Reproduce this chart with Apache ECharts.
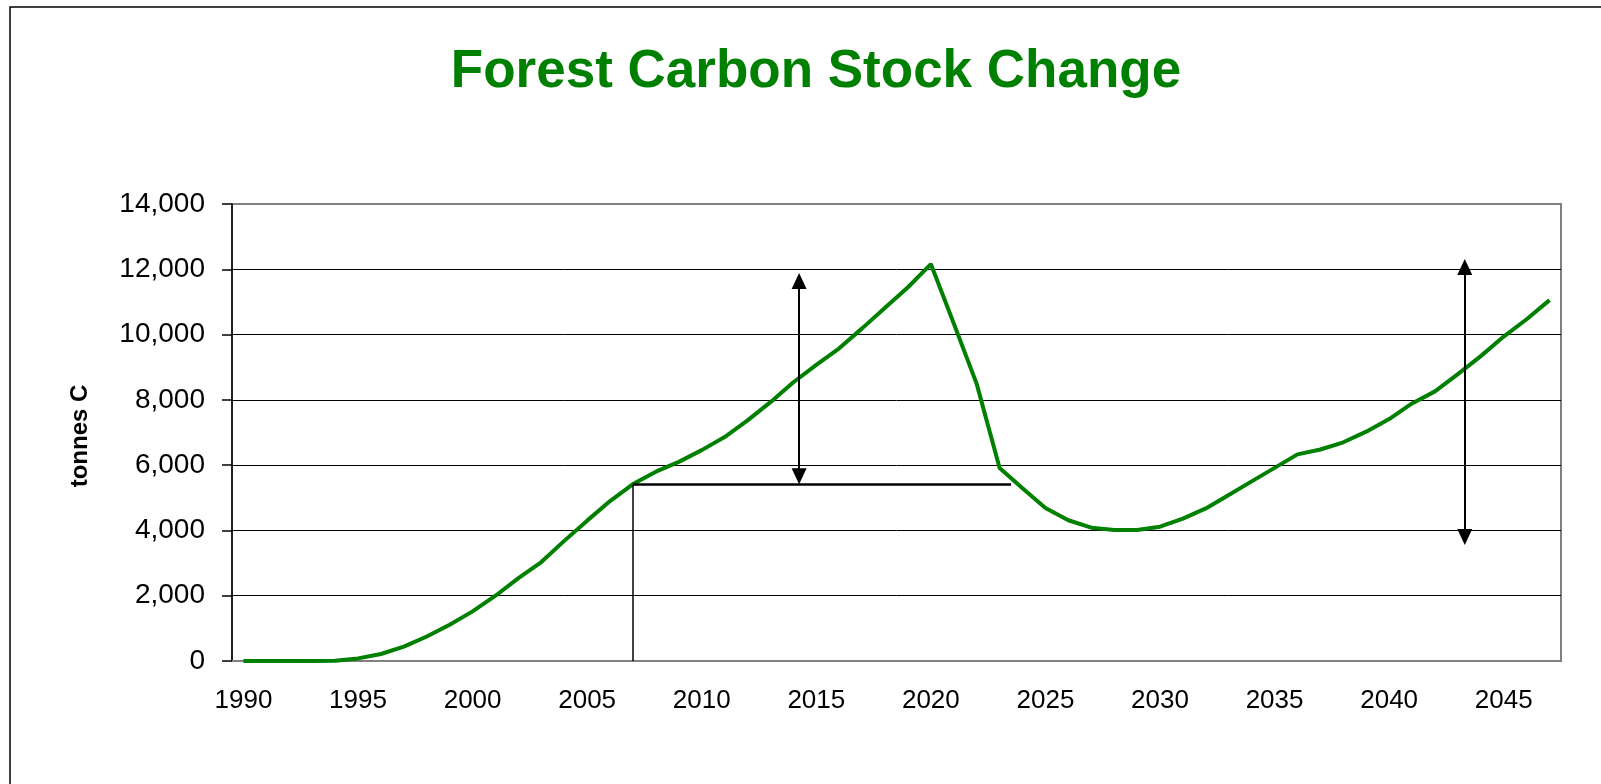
<!DOCTYPE html>
<html lang="en">
<head>
    <meta charset="UTF-8">
    <title>Forest Carbon Stock Change</title>
    <script type="text/javascript" src="https://cdn.jsdelivr.net/npm/echarts@6/dist/echarts.min.js"></script>
    <style>
        html, body {
            margin: 0;
            padding: 0;
            background-color: #ffffff;
            overflow: hidden;
        }
    </style>
</head>
<body>
    <div style="width: 1601px; height: 784px" id="container"></div>
</body>
<script>
    var dom = document.getElementById("container");
    var myChart = echarts.init(dom);
    let font = 'Liberation Sans, Arial, sans-serif';
    let green = '#008000';

    // years on the category axis
    let years = [
        '1990', '1991', '1992', '1993', '1994', '1995', '1996', '1997', '1998', '1999',
        '2000', '2001', '2002', '2003', '2004', '2005', '2006', '2007', '2008', '2009',
        '2010', '2011', '2012', '2013', '2014', '2015', '2016', '2017', '2018', '2019',
        '2020', '2021', '2022', '2023', '2024', '2025', '2026', '2027', '2028', '2029',
        '2030', '2031', '2032', '2033', '2034', '2035', '2036', '2037', '2038', '2039',
        '2040', '2041', '2042', '2043', '2044', '2045', '2046', '2047'
    ];
    // forest carbon stock, tonnes C
    let stock = [
        0, 0, 0, 0, 10, 80, 215, 440, 750, 1110,
        1520, 2000, 2540, 3030, 3680, 4300, 4900, 5420, 5800, 6100,
        6460, 6860, 7370, 7930, 8540, 9070, 9580, 10190, 10820, 11450,
        12160, 10340, 8490, 5910, 5295, 4684, 4311, 4083, 4010, 4010,
        4114, 4363, 4674, 5088, 5502, 5917, 6330, 6480, 6700, 7025,
        7410, 7890, 8260, 8790, 9340, 9940, 10470, 11055
    ];
    let yTicks = [0, 2000, 4000, 6000, 8000, 10000, 12000, 14000];

    // annotation: double arrows (year, top, bottom) and the reference level
    let arrowYear = [2014.25, 2043.3];
    let arrowTop = [11640, 12070];
    let arrowBottom = [5660, 3800];
    let refYear = 2007;
    let refEnd = 2023.5;
    let refLevel = 5400;

    let formatNumber = function (num) {
        let reg = /(?=(\B)(\d{3})+$)/g;
        return num.toString().replace(reg, ',');
    }

    let marks = [];
    arrowYear.forEach((x, i) => {
        marks.push([
            { coord: [x, arrowTop[i]], symbol: 'triangle', symbolSize: [15, 16] },
            { coord: [x, arrowBottom[i]], symbol: 'triangle', symbolSize: [15, 16] }
        ]);
    });
    marks.push([
        { coord: [refYear, 0], lineStyle: { width: 1.5 } },
        { coord: [refYear, refLevel] }
    ]);
    marks.push([
        { coord: [refYear, refLevel], lineStyle: { width: 2.5 } },
        { coord: [refEnd, refLevel] }
    ]);

    // grid lines: the top one and the zero line are grey like the plot frame
    let gridColors = yTicks.map((v, i) => (i === 0 || i === yTicks.length - 1) ? '#808080' : '#000');

    var option = {
        backgroundColor: '#ffffff',
        animation: false,
        title: {
            text: 'Forest Carbon Stock Change',
            left: 811,
            textAlign: 'center',
            top: 41,
            textStyle: {
                fontFamily: font,
                fontSize: 53,
                fontWeight: 'bold',
                color: green
            }
        },
        graphic: [{
            type: 'polyline',
            shape: { points: [[10, 784], [10, 7], [1601, 7]] },
            style: { stroke: '#000', lineWidth: 1.5, fill: null }
        }, {
            type: 'text',
            x: 80,
            y: 436,
            rotation: Math.PI / 2,
            style: {
                text: 'tonnes C',
                fontFamily: font,
                fontSize: 24,
                fontWeight: 'bold',
                fill: '#000',
                align: 'center',
                verticalAlign: 'middle'
            }
        }],
        grid: {
            left: 232,
            right: 40,
            top: 204,
            bottom: 123,
            show: true,
            borderColor: '#808080',
            borderWidth: 2
        },
        xAxis: [{
            type: 'category',
            data: years,
            boundaryGap: true,
            axisLine: { lineStyle: { color: '#808080', width: 2 } },
            axisTick: {
                interval: 0,
                length: 7,
                lineStyle: { color: '#000', width: 1.5 }
            },
            axisLabel: {
                interval: 4,
                margin: 27,
                fontFamily: font,
                fontSize: 26,
                color: '#000'
            },
            splitLine: { show: false }
        }, {
            type: 'value',
            min: 1989.5,
            max: 2047.5,
            show: false
        }],
        yAxis: {
            type: 'value',
            min: yTicks[0],
            max: yTicks[yTicks.length - 1],
            interval: yTicks[1] - yTicks[0],
            axisLine: { show: true, lineStyle: { color: '#000', width: 1.5 } },
            axisTick: { show: true, length: 10, lineStyle: { color: '#000', width: 1.5 } },
            axisLabel: {
                margin: 27,
                fontFamily: font,
                fontSize: 28,
                color: '#000',
                formatter: v => formatNumber(v)
            },
            splitLine: { lineStyle: { color: gridColors, width: 1 } }
        },
        series: [{
            type: 'line',
            data: stock,
            xAxisIndex: 0,
            symbol: 'none',
            lineStyle: { color: green, width: 4 },
            z: 3
        }, {
            type: 'line',
            xAxisIndex: 1,
            data: [],
            symbol: 'none',
            markLine: {
                silent: true,
                symbol: ['none', 'none'],
                label: { show: false },
                lineStyle: { color: '#000', width: 2, type: 'solid' },
                emphasis: { disabled: true },
                data: marks
            },
            z: 4
        }]
    };
    if (option && typeof option === 'object') {
        myChart.setOption(option);
    }
</script>
</html>
